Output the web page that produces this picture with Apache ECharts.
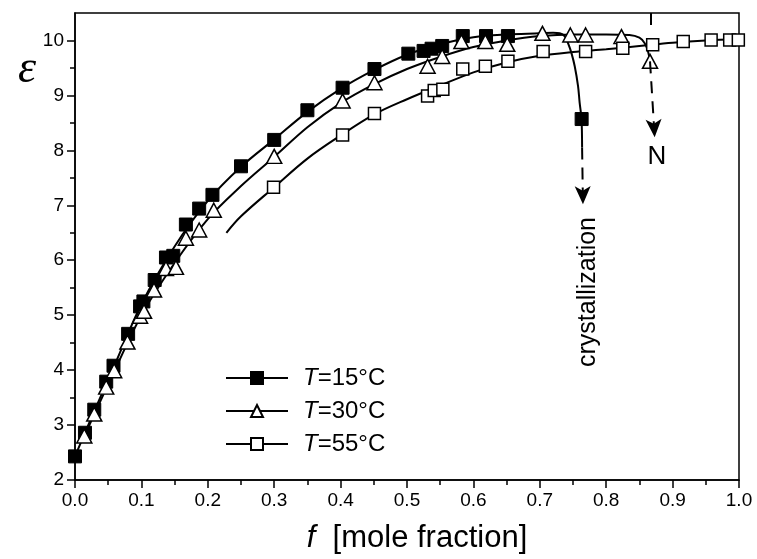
<!DOCTYPE html>
<html><head><meta charset="utf-8">
<script src="https://cdn.jsdelivr.net/npm/echarts@6/dist/echarts.min.js"></script>
<style>html,body{margin:0;padding:0;background:#fff}#c{width:757px;height:559px}</style>
</head><body><div id="c"></div>
<script>
// ---- data ----
const temps = [15, 30, 55];

// measured points
const f15 = [0, 0.015, 0.029, 0.047, 0.058, 0.08, 0.098, 0.103, 0.12, 0.137, 0.148, 0.167, 0.187, 0.207, 0.25, 0.3, 0.35, 0.403, 0.451, 0.502, 0.525, 0.537, 0.553, 0.584, 0.619, 0.652, 0.763];
const e15 = [2.43, 2.86, 3.28, 3.79, 4.08, 4.66, 5.16, 5.25, 5.64, 6.05, 6.08, 6.65, 6.94, 7.19, 7.71, 8.19, 8.73, 9.14, 9.48, 9.76, 9.81, 9.85, 9.9, 10.08, 10.08, 10.08, 8.57];

const f30 = [0.014, 0.029, 0.047, 0.059, 0.079, 0.098, 0.104, 0.119, 0.137, 0.152, 0.167, 0.187, 0.209, 0.3, 0.403, 0.451, 0.531, 0.553, 0.582, 0.618, 0.651, 0.704, 0.746, 0.769, 0.823, 0.866];
const e30 = [2.8, 3.2, 3.69, 3.99, 4.51, 4.98, 5.07, 5.46, 5.85, 5.87, 6.4, 6.55, 6.91, 7.89, 8.9, 9.23, 9.53, 9.71, 9.98, 9.98, 9.93, 10.13, 10.1, 10.1, 10.07, 9.62];

const f55 = [0.299, 0.403, 0.451, 0.531, 0.541, 0.554, 0.584, 0.618, 0.652, 0.705, 0.769, 0.825, 0.87, 0.916, 0.958, 0.986, 0.999];
const e55 = [7.33, 8.28, 8.67, 8.99, 9.09, 9.11, 9.48, 9.53, 9.62, 9.8, 9.8, 9.86, 9.92, 9.98, 10.01, 10.01, 10.01];

// guide curves
const fit15X = [0, 0.03, 0.06, 0.1, 0.15, 0.2, 0.25, 0.3, 0.35, 0.4, 0.45, 0.5, 0.55, 0.6, 0.65, 0.7, 0.72, 0.73, 0.738, 0.7425, 0.7477, 0.7526, 0.7576, 0.76, 0.7628, 0.7637];
const fit15Y = [2.43, 3.28, 4.1, 5.2, 6.25, 7.08, 7.7, 8.2, 8.7, 9.12, 9.46, 9.74, 9.93, 10.06, 10.11, 10.13, 10.14, 10.13, 10.07, 9.95, 9.77, 9.53, 9.17, 8.87, 8.57, 8.05];

const fit30X = [0.014, 0.03, 0.06, 0.1, 0.15, 0.2, 0.25, 0.3, 0.35, 0.4, 0.45, 0.5, 0.55, 0.6, 0.65, 0.7, 0.75, 0.8, 0.835, 0.85, 0.858, 0.863, 0.866];
const fit30Y = [2.8, 3.22, 4.0, 5.0, 5.95, 6.75, 7.35, 7.88, 8.42, 8.86, 9.2, 9.48, 9.7, 9.88, 10.0, 10.08, 10.11, 10.11, 10.1, 10.05, 9.95, 9.8, 9.62];

const fit55X = [0.228, 0.25, 0.3, 0.35, 0.4, 0.45, 0.5, 0.55, 0.6, 0.65, 0.7, 0.75, 0.8, 0.85, 0.9, 0.95, 1.0];
const fit55Y = [6.5, 6.8, 7.33, 7.85, 8.27, 8.65, 8.93, 9.18, 9.42, 9.6, 9.72, 9.79, 9.84, 9.9, 9.96, 10.0, 10.02];

// dashed arrows
const crystArrow = [[0.7637, 8.05], [0.765, 7.02]];
const nArrow = [[0.866, 9.62], [0.873, 8.24]];
const nTopDash = [[0.8673, 10.5], [0.8673, 10.28]];

// ticks
const yTicks = [2, 3, 4, 5, 6, 7, 8, 9, 10];
const yMinorTicks = [2.5, 3.5, 4.5, 5.5, 6.5, 7.5, 8.5, 9.5];

// ---- chart ----
const zip = (a, b) => a.map((v, i) => [v, b[i]]);
const FONT = 'Liberation Sans';
const names = temps.map(t => 'T=' + t + '°C');
const axisLS = { color: '#000', width: 1.5 };

const option = {
  animation: false,
  grid: { left: 75, right: 18, top: 13, bottom: 76, show: true, borderColor: '#000', borderWidth: 1.5 },
  xAxis: {
    type: 'value', min: 0, max: 1, interval: 0.1,
    axisLine: { onZero: false, lineStyle: axisLS },
    axisTick: { length: 8, lineStyle: axisLS },
    minorTick: { show: true, splitNumber: 2, length: 5, lineStyle: axisLS },
    splitLine: { show: false },
    axisLabel: { color: '#000', fontFamily: FONT, fontSize: 19, margin: 11, formatter: v => v.toFixed(1) },
    name: '{i|f}  [mole fraction]', nameLocation: 'middle', nameGap: 43,
    nameTextStyle: { color: '#000', fontFamily: FONT, fontSize: 31, padding: [0, 0, 0, 20],
      rich: { i: { fontStyle: 'italic', fontFamily: FONT, fontSize: 31, color: '#000' } } }
  },
  yAxis: [{
    type: 'value', min: 2, max: 10.5, interval: 1,
    axisLine: { show: true, onZero: false, lineStyle: axisLS },
    axisTick: { show: true, customValues: yTicks, length: 8, lineStyle: axisLS },
    axisLabel: { customValues: yTicks, color: '#000', fontFamily: FONT, fontSize: 19, margin: 11 },
    splitLine: { show: false }
  }, {
    type: 'value', min: 2, max: 10.5, interval: 0.5, position: 'left',
    axisLine: { show: false },
    axisTick: { show: true, customValues: yMinorTicks, length: 5, lineStyle: axisLS },
    axisLabel: { show: false },
    splitLine: { show: false }
  }],
  legend: {
    orient: 'vertical', left: 220, top: 361, itemWidth: 62, itemHeight: 15, itemGap: 9,
    selectedMode: false, data: names,
    formatter: n => '{i|T}=' + temps[names.indexOf(n)] + '°C',
    lineStyle: { color: '#000', width: 2, opacity: 1 },
    textStyle: { color: '#000', fontFamily: FONT, fontSize: 24, padding: [0, 0, 0, 10],
      rich: {
        i: { fontStyle: 'italic', fontFamily: FONT, fontSize: 24, color: '#000' }
      } }
  },
  graphic: [
    { type: 'text', x: 588, y: 292, rotation: Math.PI / 2,
      style: { text: 'crystallization', fontSize: 25, fontFamily: FONT, fill: '#000', align: 'center', verticalAlign: 'middle', textAlign: 'center', textVerticalAlign: 'middle' } },
    { type: 'text', x: 657, y: 157,
      style: { text: 'N', fontSize: 26, fontFamily: FONT, fill: '#000', align: 'center', verticalAlign: 'middle', textAlign: 'center', textVerticalAlign: 'middle' } },
    { type: 'text', x: 27, y: 70,
      style: { text: 'ε', fontSize: 46, fontFamily: 'Liberation Serif', fontStyle: 'italic', fill: '#000', align: 'center', verticalAlign: 'middle', textAlign: 'center', textVerticalAlign: 'middle' } }
  ],
  series: [
    { type: 'line', name: 'fit15', data: zip(fit15X, fit15Y), smooth: 0.35, showSymbol: false, silent: true, z: 2,
      lineStyle: { color: '#000', width: 2 },
      markLine: { silent: true, symbol: ['none', 'arrow'], symbolSize: [12, 18], label: { show: false },
        lineStyle: { color: '#000', width: 2, type: [12, 8] },
        data: [[{ coord: crystArrow[0] }, { coord: crystArrow[1] }]] } },
    { type: 'line', name: 'fit30', data: zip(fit30X, fit30Y), smooth: 0.35, showSymbol: false, silent: true, z: 2,
      lineStyle: { color: '#000', width: 2 },
      markLine: { silent: true, symbol: ['none', 'arrow'], symbolSize: [12, 18], label: { show: false },
        lineStyle: { color: '#000', width: 2, type: [12, 8] },
        data: [[{ coord: nArrow[0] }, { coord: nArrow[1] }],
               [{ coord: nTopDash[0], symbol: 'none' }, { coord: nTopDash[1], symbol: 'none' }]] } },
    { type: 'line', name: 'fit55', data: zip(fit55X, fit55Y), smooth: 0.35, showSymbol: false, silent: true, z: 2,
      lineStyle: { color: '#000', width: 2 } },
    { type: 'line', name: names[0], data: zip(f15, e15), z: 3, showAllSymbol: true,
      symbol: 'rect', symbolSize: 13, itemStyle: { color: '#000', borderColor: '#000', borderWidth: 1 },
      lineStyle: { color: '#000', width: 2, opacity: 0 } },
    { type: 'line', name: names[1], data: zip(f30, e30), z: 4, showAllSymbol: true,
      symbol: 'triangle', symbolSize: [15, 14], itemStyle: { color: '#fff', borderColor: '#000', borderWidth: 1.5 },
      lineStyle: { color: '#000', width: 2, opacity: 0 } },
    { type: 'line', name: names[2], data: zip(f55, e55), z: 5, showAllSymbol: true,
      symbol: 'rect', symbolSize: 12, itemStyle: { color: '#fff', borderColor: '#000', borderWidth: 1.5 },
      lineStyle: { color: '#000', width: 2, opacity: 0 } }
  ]
};
const chart = echarts.init(document.getElementById('c'), null, { renderer: 'canvas' });
chart.setOption(option);
</script>
</body></html>
